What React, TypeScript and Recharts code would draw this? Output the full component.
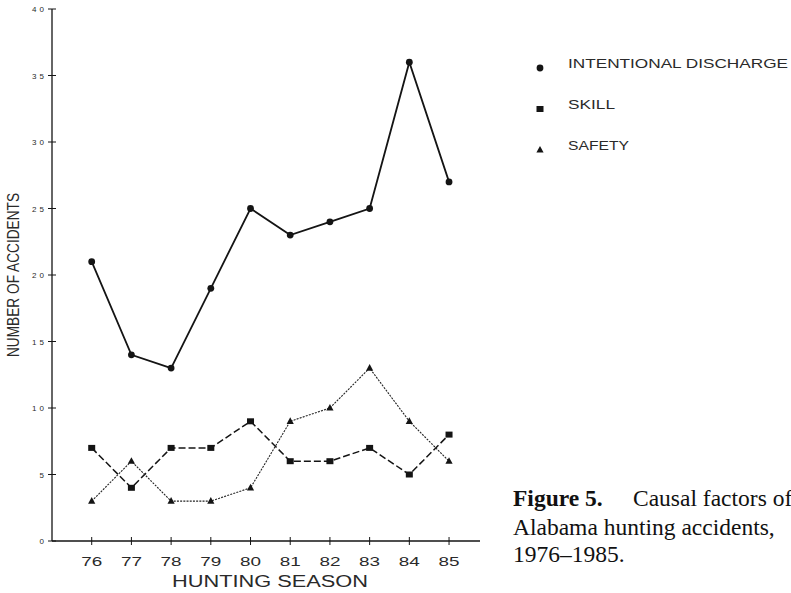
import { LineChart, Line, XAxis, YAxis, Legend } from "recharts";

const seasons = [76, 77, 78, 79, 80, 81, 82, 83, 84, 85];
const intentional = [21, 14, 13, 19, 25, 23, 24, 25, 36, 27];
const skill = [7, 4, 7, 7, 9, 6, 6, 7, 5, 8];
const safety = [3, 6, 3, 3, 4, 9, 10, 13, 9, 6];
const yTicks = [0, 5, 10, 15, 20, 25, 30, 35, 40];

const data = seasons.map((s, i) => ({
  season: s,
  intentional: intentional[i],
  skill: skill[i],
  safety: safety[i],
}));

const series = [
  { key: "intentional", label: "INTENTIONAL DISCHARGE", len: 220 },
  { key: "skill", label: "SKILL", len: 47 },
  { key: "safety", label: "SAFETY", len: 61 },
];

const INK = "#141414";
const TXT = "#2a2a2a";
const SANS = "'Liberation Sans', Arial, sans-serif";

function Marker({ kind, cx, cy }: { kind: string; cx: number; cy: number }) {
  if (kind === "intentional") return <circle cx={cx} cy={cy} r={3.4} fill={INK} />;
  if (kind === "skill") return <rect x={cx - 3.5} y={cy - 3} width={7} height={6} fill={INK} />;
  return <path d={`M${cx},${cy - 4} L${cx + 3.6},${cy + 2.6} L${cx - 3.6},${cy + 2.6} Z`} fill={INK} />;
}

const dotFor = (kind: string) => (p: any) =>
  <Marker key={`${kind}-${p.index}`} kind={kind} cx={p.cx} cy={p.cy} />;

function XTick({ x, y, payload }: any) {
  return (
    <g>
      <line x1={x} x2={x} y1={y - 4} y2={y + 4} stroke={INK} strokeWidth={1} />
      <text x={x} y={y + 25} textAnchor="middle" fontFamily={SANS} fontSize={13.5} fill={TXT}
        textLength={21} lengthAdjust="spacingAndGlyphs">
        {payload.value}
      </text>
    </g>
  );
}

function YTick({ x, y, payload }: any) {
  const s = String(payload.value);
  return (
    <g>
      <line x1={x - 4} x2={x + 4} y1={y} y2={y} stroke={INK} strokeWidth={1} />
      <text x={x - 8} y={y + 3} textAnchor="end" fontFamily={SANS} fontSize={8} fill={TXT}
        textLength={s.length > 1 ? 12 : 6} lengthAdjust="spacing">
        {s}
      </text>
    </g>
  );
}

// legend in the fixed series order, not the sorted payload order
function LegendBox() {
  return (
    <svg width={266} height={120} style={{ position: "absolute", left: 525, top: 46, overflow: "visible" }}>
      {series.map((s, i) => {
        const y = 22 + i * 41;
        return (
          <g key={s.key}>
            <Marker kind={s.key} cx={15} cy={y} />
            <text x={43} y={y} fontFamily={SANS} fontSize={13.5} fill={TXT} textLength={s.len}
              lengthAdjust="spacingAndGlyphs">
              {s.label}
            </text>
          </g>
        );
      })}
    </svg>
  );
}

export default function App() {
  return (
    <div style={{ position: "absolute", left: 0, top: 0, width: 791, height: 593, overflow: "hidden", background: "#fff" }}>
      <LineChart width={791} height={593} data={data} margin={{ top: 9, right: 311, left: 0, bottom: 22 }}>
        <XAxis
          dataKey="season"
          type="number"
          domain={[75, 85.78]}
          ticks={seasons}
          allowDataOverflow
          height={30}
          tickSize={0}
          tickMargin={0}
          tickLine={false}
          axisLine={{ stroke: INK, strokeWidth: 1.3 }}
          tick={<XTick />}
          label={() => (
            <text x={270} y={587} textAnchor="middle" fontFamily={SANS} fontSize={16} fill={TXT}
              textLength={196} lengthAdjust="spacingAndGlyphs">
              HUNTING SEASON
            </text>
          )}
        />
        <YAxis
          width={52}
          domain={[0, 40]}
          ticks={yTicks}
          tickSize={0}
          tickMargin={0}
          tickLine={false}
          axisLine={{ stroke: INK, strokeWidth: 1.3 }}
          tick={<YTick />}
          label={() => (
            <text x={19} y={275} transform="rotate(-90 19 275)" textAnchor="middle" fontFamily={SANS}
              fontSize={16} fill={TXT} textLength={164} lengthAdjust="spacingAndGlyphs">
              NUMBER OF ACCIDENTS
            </text>
          )}
        />
        <Legend
          layout="vertical"
          align="right"
          verticalAlign="middle"
          content={<LegendBox />}
          wrapperStyle={{ position: "absolute", left: 0, top: 0, width: 0, height: 0 }}
        />
        <Line dataKey="intentional" stroke={INK} strokeWidth={1.8} dot={dotFor("intentional")}
          isAnimationActive={false} activeDot={false} />
        <Line dataKey="skill" stroke={INK} strokeWidth={1.5} strokeDasharray="7 3" dot={dotFor("skill")}
          isAnimationActive={false} activeDot={false} />
        <Line dataKey="safety" stroke="#222" strokeWidth={1.1} strokeDasharray="2 1.2" dot={dotFor("safety")}
          isAnimationActive={false} activeDot={false} />
      </LineChart>
      <svg width={791} height={593} style={{ position: "absolute", left: 0, top: 0, pointerEvents: "none" }}>
        <text fontFamily="'Liberation Serif', 'Times New Roman', serif" fontSize={23.5} fill="#111">
          <tspan x={513} y={506} fontWeight="bold">Figure 5.</tspan>
          <tspan x={633} y={506}>Causal factors of</tspan>
          <tspan x={513} y={535}>Alabama hunting accidents,</tspan>
          <tspan x={513} y={562}>1976–1985.</tspan>
        </text>
      </svg>
    </div>
  );
}
